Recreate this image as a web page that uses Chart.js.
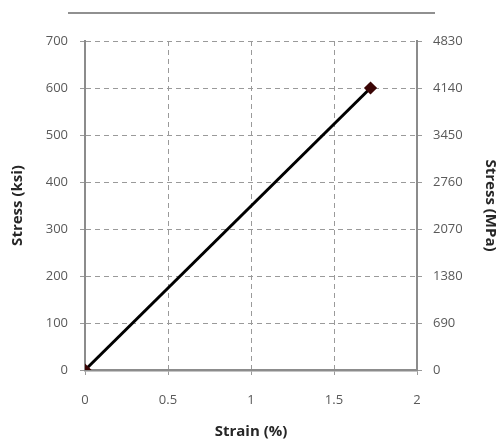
<!DOCTYPE html>
<html>
<head>
<meta charset="utf-8">
<script src="https://cdn.jsdelivr.net/npm/chart.js@4"></script>
<style>
  body { margin: 0; background: #fff; }
  canvas { display: block; }
</style>
</head>
<body>
<canvas id="stressChart" width="501" height="443"></canvas>
<script>
// Stress-strain data
const strainPct = [0, 1.72];
const stressKsi = [0, 600];

// Axis ranges
const strainTicks = [0, 0.5, 1, 1.5, 2];
const ksiMax = 700, ksiStep = 100;
const mpaMax = 4830, mpaStep = 690;

const labelFont = { family: 'Open Sans, Liberation Sans, sans-serif', size: 13 };
const titleFont = { family: 'Open Sans, Liberation Sans, sans-serif', size: 15, weight: 'bold' };
const gridColor = '#9a9a9a';
const axisColor = '#8c8c8c';
const dash = [5, 4];
const plain = v => String(v);

// thin rule above the plot, as in the source figure
const topRule = {
    id: 'topRule',
    beforeDraw(chart) {
        const ctx = chart.ctx;
        ctx.save();
        ctx.strokeStyle = '#6b6b6b';
        ctx.lineWidth = 1.5;
        ctx.beginPath();
        ctx.moveTo(68, 13);
        ctx.lineTo(435, 13);
        ctx.stroke();
        ctx.restore();
    }
};

const ctx = document.getElementById('stressChart').getContext('2d');
new Chart(ctx, {
    type: 'line',
    data: {
        datasets: [{
            data: strainPct.map((x, i) => ({ x: x, y: stressKsi[i] })),
            borderColor: '#000',
            borderWidth: 3,
            pointStyle: 'rectRot',
            pointRadius: 4.5,
            pointBackgroundColor: '#3a0505',
            pointBorderColor: '#3a0505',
            yAxisID: 'y'
        }]
    },
    options: {
        responsive: false,
        animation: false,
        layout: { padding: { top: 41, left: 0, right: 0, bottom: 0 } },
        plugins: { legend: { display: false }, tooltip: { enabled: false } },
        scales: {
            x: {
                type: 'linear',
                min: strainTicks[0],
                max: strainTicks[strainTicks.length - 1],
                afterBuildTicks: s => { s.ticks = strainTicks.map(v => ({ value: v })); },
                afterFit: s => { s.height = 73; },
                ticks: { color: '#595959', font: labelFont, padding: 17, callback: plain },
                grid: { color: gridColor, tickLength: 5 },
                border: { color: axisColor, width: 2.5, dash: dash },
                title: { display: true, text: 'Strain (%)', color: '#262626', font: titleFont, padding: { top: 0, bottom: 2 } }
            },
            y: {
                position: 'left',
                min: 0, max: ksiMax,
                ticks: { stepSize: ksiStep, color: '#595959', font: labelFont, padding: 12, callback: plain },
                afterFit: s => { s.width = 85; },
                grid: { color: gridColor, tickLength: 5 },
                border: { color: axisColor, width: 2, dash: dash },
                title: { display: true, text: 'Stress (ksi)', color: '#262626', font: titleFont, padding: { top: 9, bottom: 0 } }
            },
            y1: {
                position: 'right',
                min: 0, max: mpaMax,
                ticks: { stepSize: mpaStep, color: '#595959', font: labelFont, padding: 11, callback: plain },
                afterFit: s => { s.width = 84; },
                grid: { drawOnChartArea: false, color: gridColor, tickLength: 5 },
                border: { color: axisColor, width: 2 },
                title: { display: true, text: 'Stress (MPa)', color: '#262626', font: titleFont, padding: { top: 2, bottom: 0 } }
            }
        }
    },
    plugins: [topRule]
});
</script>
</body>
</html>
